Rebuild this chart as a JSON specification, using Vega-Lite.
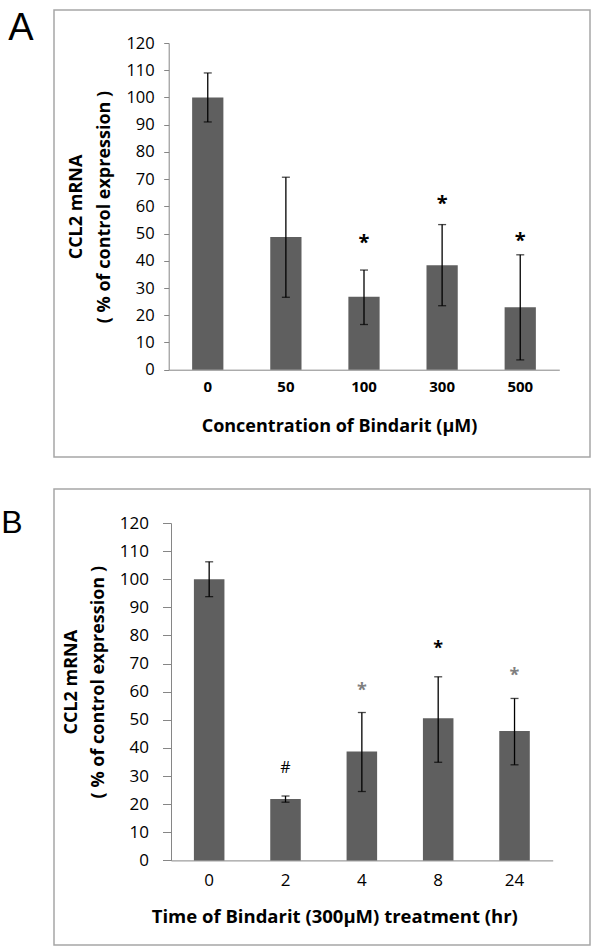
{
  "$schema": "https://vega.github.io/schema/vega-lite/v6.json",
  "background": "white",
  "padding": {"left": 0, "top": 8, "right": 5, "bottom": 5},
  "spacing": 30,
  "config": {
    "view": {"stroke": "#a6a6a6", "strokeWidth": 1.5},
    "font": "Open Sans",
    "axis": {"grid": false, "domainColor": "#868686", "tickColor": "#868686", "labelColor": "#000000", "titleColor": "#000000", "labelFont": "Open Sans", "titleFont": "Open Sans"},
    "axisY": {"labelOverlap": false}
  },
  "vconcat": [
    {
      "width": 536,
      "height": 447,
      "title": {"text": "A", "orient": "left", "anchor": "end", "frame": "group", "angle": 0, "align": "right", "baseline": "alphabetic", "offset": -5, "dy": 29.5, "font": "Liberation Sans", "fontSize": 38, "fontWeight": "normal", "color": "#000000"},
      "data": {"values": [
        {"cat": "0", "mean": 100, "lo": 91, "hi": 109},
        {"cat": "50", "mean": 48.7, "lo": 26.6, "hi": 70.7},
        {"cat": "100", "mean": 26.8, "lo": 16.6, "hi": 36.6},
        {"cat": "300", "mean": 38.4, "lo": 23.5, "hi": 53.3},
        {"cat": "500", "mean": 22.9, "lo": 3.6, "hi": 42.2}
      ]},
      "encoding": {
        "x": {"field": "cat", "type": "nominal",
          "scale": {"domain": ["0", "50", "100", "300", "500"], "range": [114.7, 505.3], "paddingInner": 0.6, "paddingOuter": 0.3},
          "axis": {"orient": "bottom", "offset": -87.3, "labelAngle": 0, "ticks": false, "tickSize": 0, "labelPadding": 17, "labelBaseline": "middle", "labelFontSize": 15, "labelFontWeight": "bold",
            "title": "Concentration of Bindarit (μM)", "titleFontSize": 18, "titleFontWeight": "bold", "titleX": 285, "titleY": 56.6, "titleAlign": "center", "titleBaseline": "middle", "titleAngle": 0}}
      },
      "layer": [
        {"mark": {"type": "bar", "color": "#5f5f5f"},
          "encoding": {"y": {"field": "mean", "type": "quantitative",
            "scale": {"domain": [0, 120], "range": [359.7, 33], "nice": false, "zero": true},
            "axis": {"orient": "left", "offset": -114.7, "values": [0, 10, 20, 30, 40, 50, 60, 70, 80, 90, 100, 110, 120], "tickCount": 13, "labelOverlap": false, "tickSize": 5, "labelPadding": 9.5, "labelFontSize": 16.5,
              "title": ["CCL2 mRNA", "( % of control expression )"], "titleFontSize": 18, "titleFontWeight": "bold", "titleLineHeight": 28, "titleAngle": -90, "titleX": -92.7, "titleY": 196.5, "titleAlign": "center", "titleBaseline": "middle"}}}},
        {"mark": {"type": "rule", "color": "#000000", "strokeWidth": 1.3},
          "encoding": {"y": {"field": "lo", "type": "quantitative", "scale": {"domain": [0, 120], "range": [359.7, 33], "nice": false},
            "axis": {"orient": "left", "offset": -114.7, "values": [0, 10, 20, 30, 40, 50, 60, 70, 80, 90, 100, 110, 120], "tickCount": 13, "labelOverlap": false, "tickSize": 5, "labelPadding": 9.5, "labelFontSize": 16.5,
              "title": ["CCL2 mRNA", "( % of control expression )"], "titleFontSize": 18, "titleFontWeight": "bold", "titleLineHeight": 28, "titleAngle": -90, "titleX": -92.7, "titleY": 196.5, "titleAlign": "center", "titleBaseline": "middle"}}, "y2": {"field": "hi"}}},
        {"mark": {"type": "tick", "color": "#000000", "size": 8, "thickness": 1.3},
          "encoding": {"y": {"field": "lo", "type": "quantitative", "scale": {"domain": [0, 120], "range": [359.7, 33], "nice": false},
            "axis": {"orient": "left", "offset": -114.7, "values": [0, 10, 20, 30, 40, 50, 60, 70, 80, 90, 100, 110, 120], "tickCount": 13, "labelOverlap": false, "tickSize": 5, "labelPadding": 9.5, "labelFontSize": 16.5,
              "title": ["CCL2 mRNA", "( % of control expression )"], "titleFontSize": 18, "titleFontWeight": "bold", "titleLineHeight": 28, "titleAngle": -90, "titleX": -92.7, "titleY": 196.5, "titleAlign": "center", "titleBaseline": "middle"}}}},
        {"mark": {"type": "tick", "color": "#000000", "size": 8, "thickness": 1.3},
          "encoding": {"y": {"field": "hi", "type": "quantitative", "scale": {"domain": [0, 120], "range": [359.7, 33], "nice": false},
            "axis": {"orient": "left", "offset": -114.7, "values": [0, 10, 20, 30, 40, 50, 60, 70, 80, 90, 100, 110, 120], "tickCount": 13, "labelOverlap": false, "tickSize": 5, "labelPadding": 9.5, "labelFontSize": 16.5,
              "title": ["CCL2 mRNA", "( % of control expression )"], "titleFontSize": 18, "titleFontWeight": "bold", "titleLineHeight": 28, "titleAngle": -90, "titleX": -92.7, "titleY": 196.5, "titleAlign": "center", "titleBaseline": "middle"}}}},
        {"data": {"values": [
            {"cat": "100", "label": "*", "pos": 48.4},
            {"cat": "300", "label": "*", "pos": 62.7},
            {"cat": "500", "label": "*", "pos": 49.2}
          ]},
          "mark": {"type": "text", "font": "Open Sans", "fontSize": 20, "fontWeight": "bold", "baseline": "middle", "align": "center", "dy": 5, "color": "#000000"},
          "encoding": {"y": {"field": "pos", "type": "quantitative", "scale": {"domain": [0, 120], "range": [359.7, 33], "nice": false},
            "axis": {"orient": "left", "offset": -114.7, "values": [0, 10, 20, 30, 40, 50, 60, 70, 80, 90, 100, 110, 120], "tickCount": 13, "labelOverlap": false, "tickSize": 5, "labelPadding": 9.5, "labelFontSize": 16.5,
              "title": ["CCL2 mRNA", "( % of control expression )"], "titleFontSize": 18, "titleFontWeight": "bold", "titleLineHeight": 28, "titleAngle": -90, "titleX": -92.7, "titleY": 196.5, "titleAlign": "center", "titleBaseline": "middle"}}, "text": {"field": "label"}}}
      ]
    },
    {
      "width": 536,
      "height": 456,
      "title": {"text": "B", "orient": "left", "anchor": "end", "frame": "group", "angle": 0, "align": "right", "baseline": "alphabetic", "offset": 10, "dy": 43.7, "font": "Liberation Sans", "fontSize": 32, "fontWeight": "normal", "color": "#000000"},
      "data": {"values": [
        {"cat": "0", "mean": 100, "lo": 93.8, "hi": 106.2},
        {"cat": "2", "mean": 21.8, "lo": 20.7, "hi": 22.9},
        {"cat": "4", "mean": 38.7, "lo": 24.5, "hi": 52.6},
        {"cat": "8", "mean": 50.6, "lo": 34.9, "hi": 65.3},
        {"cat": "24", "mean": 46.0, "lo": 34.0, "hi": 57.6}
      ]},
      "encoding": {
        "x": {"field": "cat", "type": "nominal",
          "scale": {"domain": ["0", "2", "4", "8", "24"], "range": [117, 498.7], "paddingInner": 0.6, "paddingOuter": 0.3},
          "axis": {"orient": "bottom", "offset": -84.6, "labelAngle": 0, "ticks": false, "tickSize": 0, "labelPadding": 20, "labelBaseline": "middle", "labelFontSize": 17,
            "title": "Time of Bindarit (300μM) treatment (hr)", "titleFontSize": 18.5, "titleFontWeight": "bold", "titleX": 280.3, "titleY": 56.3, "titleAlign": "center", "titleBaseline": "middle", "titleAngle": 0}}
      },
      "layer": [
        {"mark": {"type": "bar", "color": "#5f5f5f"},
          "encoding": {"y": {"field": "mean", "type": "quantitative",
            "scale": {"domain": [0, 120], "range": [371.4, 34], "nice": false, "zero": true},
            "axis": {"orient": "left", "offset": -117, "values": [0, 10, 20, 30, 40, 50, 60, 70, 80, 90, 100, 110, 120], "tickCount": 13, "labelOverlap": false, "tickSize": 8.5, "labelPadding": 14, "labelFontSize": 17,
              "title": ["CCL2 mRNA", "( % of control expression )"], "titleFontSize": 18, "titleFontWeight": "bold", "titleLineHeight": 27, "titleAngle": -90, "titleX": -99.3, "titleY": 192.7, "titleAlign": "center", "titleBaseline": "middle"}}}},
        {"mark": {"type": "rule", "color": "#000000", "strokeWidth": 1.3},
          "encoding": {"y": {"field": "lo", "type": "quantitative", "scale": {"domain": [0, 120], "range": [371.4, 34], "nice": false},
            "axis": {"orient": "left", "offset": -117, "values": [0, 10, 20, 30, 40, 50, 60, 70, 80, 90, 100, 110, 120], "tickCount": 13, "labelOverlap": false, "tickSize": 8.5, "labelPadding": 14, "labelFontSize": 17,
              "title": ["CCL2 mRNA", "( % of control expression )"], "titleFontSize": 18, "titleFontWeight": "bold", "titleLineHeight": 27, "titleAngle": -90, "titleX": -99.3, "titleY": 192.7, "titleAlign": "center", "titleBaseline": "middle"}}, "y2": {"field": "hi"}}},
        {"mark": {"type": "tick", "color": "#000000", "size": 8, "thickness": 1.3},
          "encoding": {"y": {"field": "lo", "type": "quantitative", "scale": {"domain": [0, 120], "range": [371.4, 34], "nice": false},
            "axis": {"orient": "left", "offset": -117, "values": [0, 10, 20, 30, 40, 50, 60, 70, 80, 90, 100, 110, 120], "tickCount": 13, "labelOverlap": false, "tickSize": 8.5, "labelPadding": 14, "labelFontSize": 17,
              "title": ["CCL2 mRNA", "( % of control expression )"], "titleFontSize": 18, "titleFontWeight": "bold", "titleLineHeight": 27, "titleAngle": -90, "titleX": -99.3, "titleY": 192.7, "titleAlign": "center", "titleBaseline": "middle"}}}},
        {"mark": {"type": "tick", "color": "#000000", "size": 8, "thickness": 1.3},
          "encoding": {"y": {"field": "hi", "type": "quantitative", "scale": {"domain": [0, 120], "range": [371.4, 34], "nice": false},
            "axis": {"orient": "left", "offset": -117, "values": [0, 10, 20, 30, 40, 50, 60, 70, 80, 90, 100, 110, 120], "tickCount": 13, "labelOverlap": false, "tickSize": 8.5, "labelPadding": 14, "labelFontSize": 17,
              "title": ["CCL2 mRNA", "( % of control expression )"], "titleFontSize": 18, "titleFontWeight": "bold", "titleLineHeight": 27, "titleAngle": -90, "titleX": -99.3, "titleY": 192.7, "titleAlign": "center", "titleBaseline": "middle"}}}},
        {"data": {"values": [
            {"cat": "2", "label": "#", "pos": 33.1, "test": "p1"},
            {"cat": "4", "label": "*", "pos": 62.1, "test": "p2"},
            {"cat": "8", "label": "*", "pos": 77.0, "test": "p1"},
            {"cat": "24", "label": "*", "pos": 67.2, "test": "p2"}
          ]},
          "encoding": {"y": {"field": "pos", "type": "quantitative", "scale": {"domain": [0, 120], "range": [371.4, 34], "nice": false},
              "axis": {"orient": "left", "offset": -117, "values": [0, 10, 20, 30, 40, 50, 60, 70, 80, 90, 100, 110, 120], "tickCount": 13, "labelOverlap": false, "tickSize": 8.5, "labelPadding": 14, "labelFontSize": 17,
                "title": ["CCL2 mRNA", "( % of control expression )"], "titleFontSize": 18, "titleFontWeight": "bold", "titleLineHeight": 27, "titleAngle": -90, "titleX": -99.3, "titleY": 192.7, "titleAlign": "center", "titleBaseline": "middle"}},
            "text": {"field": "label"},
            "color": {"field": "test", "type": "nominal", "scale": {"domain": ["p1", "p2"], "range": ["#000000", "#7f7f7f"]}, "legend": null}},
          "layer": [
            {"transform": [{"filter": "datum.label == '*'"}],
              "mark": {"type": "text", "font": "Open Sans", "fontSize": 18, "fontWeight": "bold", "baseline": "middle", "align": "center", "dy": 5}},
            {"transform": [{"filter": "datum.label == '#'"}],
              "mark": {"type": "text", "font": "Open Sans", "fontSize": 16, "fontWeight": "normal", "baseline": "middle", "align": "center", "dy": 1}}
          ]}
      ]
    }
  ]
}
